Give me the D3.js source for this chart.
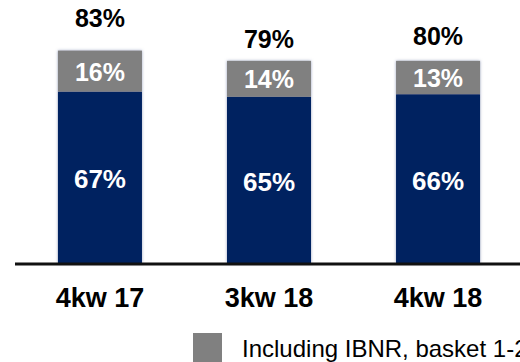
<!DOCTYPE html>
<html>
<head>
<meta charset="utf-8">
<script src="https://cdn.jsdelivr.net/npm/d3@7"></script>
<style>
  html, body { margin: 0; padding: 0; background: #fff; overflow: hidden; }
  svg { display: block; font-family: "Liberation Sans", Arial, sans-serif; }
</style>
</head>
<body>
<svg id="chart" width="520" height="362"></svg>
<script>
// Quarters shown along the axis
const categories = ["4kw 17", "3kw 18", "4kw 18"];
// Lower (navy) segment, in percent
const baseValues = [67, 65, 66];
// Upper (grey) segment: IBNR, basket 1-2
const ibnrValues = [16, 14, 13];
// Stacked totals printed above each column
const totalValues = [83, 79, 80];
const legendLabel = "Including IBNR, basket 1-2";

const W = 520, H = 362;
const NAVY = "#002060", GREY = "#808080";

const svg = d3.select("#chart");

// Soft halo around the columns
const defs = svg.append("defs");
const glow = defs.append("filter").attr("id", "halo")
  .attr("x", "-20%").attr("y", "-20%").attr("width", "140%").attr("height", "140%");
glow.append("feDropShadow").attr("dx", 0).attr("dy", 0)
  .attr("stdDeviation", 1.8).attr("flood-color", "#5a6a9a").attr("flood-opacity", 0.6);

const x = d3.scaleBand()
  .domain(categories)
  .range([15, 523])
  .paddingInner(0.503)
  .paddingOuter(0.254);

const y = d3.scaleLinear().domain([0, 100]).range([263.5, 7]);

const rows = categories.map((c, i) => ({
  cat: c, base: baseValues[i], ibnr: ibnrValues[i], total: totalValues[i]
}));

const bars = svg.append("g").attr("filter", "url(#halo)");

// Navy base segment
bars.selectAll("rect.base").data(rows).join("rect")
  .attr("class", "base")
  .attr("x", d => x(d.cat))
  .attr("width", x.bandwidth())
  .attr("y", d => y(d.base))
  .attr("height", d => y(0) - y(d.base))
  .attr("fill", NAVY);

// Grey IBNR segment stacked on top
bars.selectAll("rect.ibnr").data(rows).join("rect")
  .attr("class", "ibnr")
  .attr("x", d => x(d.cat))
  .attr("width", x.bandwidth())
  .attr("y", d => y(d.base + d.ibnr))
  .attr("height", d => y(d.base) - y(d.base + d.ibnr))
  .attr("fill", GREY);

// Baseline
svg.append("line")
  .attr("x1", 15).attr("x2", W)
  .attr("y1", y(0) + 0.5).attr("y2", y(0) + 0.5)
  .attr("stroke", "#111").attr("stroke-width", 3);

const cx = d => x(d.cat) + x.bandwidth() / 2;

// Segment labels
svg.append("g").selectAll("text").data(rows).join("text")
  .attr("x", cx)
  .attr("y", d => (y(0) + y(d.base)) / 2)
  .attr("dy", "0.42em")
  .attr("text-anchor", "middle")
  .attr("fill", "#fff").attr("font-weight", "bold").attr("font-size", 26)
  .text(d => d.base + "%");

svg.append("g").selectAll("text").data(rows).join("text")
  .attr("x", cx)
  .attr("y", d => (y(d.base) + y(d.base + d.ibnr)) / 2)
  .attr("dy", "0.38em")
  .attr("text-anchor", "middle")
  .attr("fill", "#fff").attr("font-weight", "bold").attr("font-size", 25)
  .text(d => d.ibnr + "%");

// Totals above the columns; the first one sits a little higher
const totalLift = [11, 0, 0];
svg.append("g").selectAll("text").data(rows).join("text")
  .attr("x", cx)
  .attr("y", (d, i) => y(d.total) - 13 - totalLift[i])
  .attr("text-anchor", "middle")
  .attr("fill", "#000").attr("font-weight", "bold").attr("font-size", 25)
  .text(d => d.total + "%");

// Category labels
svg.append("g").selectAll("text").data(rows).join("text")
  .attr("x", cx)
  .attr("y", 306.5)
  .attr("text-anchor", "middle")
  .attr("fill", "#000").attr("font-weight", "bold").attr("font-size", 27)
  .text(d => d.cat);

// Legend
const legend = svg.append("g");
legend.append("rect")
  .attr("x", 193).attr("y", 333).attr("width", 29).attr("height", 29)
  .attr("fill", GREY);
legend.append("text")
  .attr("x", 242).attr("y", 357)
  .attr("fill", "#000").attr("font-size", 24)
  .text(legendLabel);
</script>
</body>
</html>
